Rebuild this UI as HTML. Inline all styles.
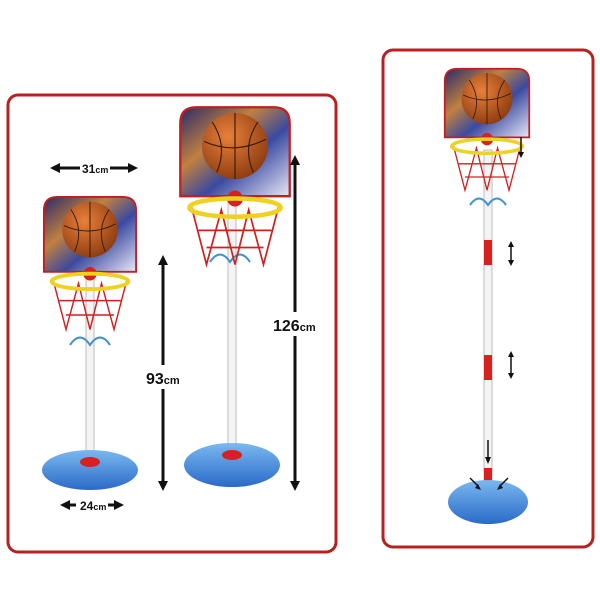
<!DOCTYPE html>
<html><head><style>html,body{margin:0;padding:0;background:#fff;width:600px;height:597px;overflow:hidden}</style></head>
<body>
<svg width="600" height="597" viewBox="0 0 600 597" xmlns="http://www.w3.org/2000/svg" font-family="Liberation Sans, sans-serif">
<defs>
<linearGradient id="bb" x1="0" y1="0" x2="1" y2="1">
<stop offset="0" stop-color="#2a2a6a"/><stop offset="0.35" stop-color="#c08040"/><stop offset="0.6" stop-color="#3a4aa0"/><stop offset="1" stop-color="#e8e8f8"/></linearGradient>
<radialGradient id="ball" cx="0.4" cy="0.35" r="0.7"><stop offset="0" stop-color="#e8803a"/><stop offset="1" stop-color="#8a3a10"/></radialGradient>
<linearGradient id="base" x1="0" y1="0" x2="0" y2="1"><stop offset="0" stop-color="#7ab8f0"/><stop offset="1" stop-color="#2a6ac8"/></linearGradient>
<symbol id="hoop" viewBox="0 0 100 150">
<path d="M2,16 Q2,2 16,2 L84,2 Q98,2 98,16 L98,80 L2,80 Z" fill="url(#bb)" stroke="#c02020" stroke-width="2"/>
<circle cx="50" cy="36" r="29" fill="url(#ball)"/>
<path d="M23,32 Q50,44 77,30 M50,7 L50,65 M30,15 Q44,36 34,59 M70,15 Q56,36 66,59" stroke="#3a1a08" stroke-width="1" fill="none"/>
<circle cx="50" cy="82" r="7" fill="#d82020"/>
<path d="M12,90 L25,140 L38,92 L50,140 L62,92 L75,140 L88,90 M18,110 L82,110 M25,125 L75,125" stroke="#d02020" stroke-width="1.5" fill="none"/>
<ellipse cx="50" cy="90" rx="40" ry="8" fill="none" stroke="#f0d020" stroke-width="4"/>
</symbol>
</defs>
<rect x="8" y="95" width="328" height="457" rx="10" fill="none" stroke="#b82020" stroke-width="3"/>
<rect x="383" y="50" width="210" height="497" rx="10" fill="none" stroke="#b82020" stroke-width="3"/>

<rect x="86" y="270" width="8" height="195" fill="#f4f4f4" stroke="#bbb" stroke-width="1"/>
<ellipse cx="90" cy="470" rx="48" ry="20" fill="url(#base)"/>
<ellipse cx="90" cy="462" rx="10" ry="5" fill="#d82020"/>
<path d="M70,345 q10,-15 20,0 q10,-15 20,0" stroke="#4090d0" fill="none" stroke-width="2"/>
<use href="#hoop" x="42" y="195" width="96" height="144"/>

<rect x="228" y="190" width="8" height="265" fill="#f4f4f4" stroke="#bbb" stroke-width="1"/>
<ellipse cx="232" cy="465" rx="48" ry="22" fill="url(#base)"/>
<ellipse cx="232" cy="455" rx="10" ry="5" fill="#d82020"/>
<path d="M210,262 q10,-15 20,0 q10,-15 20,0" stroke="#4090d0" fill="none" stroke-width="2"/>
<use href="#hoop" x="178" y="105" width="114" height="171"/>

<rect x="484" y="150" width="8" height="335" fill="#f4f4f4" stroke="#bbb" stroke-width="1"/>
<rect x="484" y="240" width="8" height="25" fill="#d82020"/>
<rect x="484" y="355" width="8" height="25" fill="#d82020"/>
<rect x="484" y="468" width="8" height="20" fill="#d82020"/>
<ellipse cx="488" cy="502" rx="40" ry="22" fill="url(#base)"/>
<path d="M470,205 q9,-13 18,0 q9,-13 18,0" stroke="#4090d0" fill="none" stroke-width="2"/>
<use href="#hoop" x="443" y="67" width="88" height="132"/>

<g stroke="#111" stroke-width="3" fill="#111">
<line x1="56" y1="168" x2="132" y2="168"/>
<path d="M50,168 l10,-5 v10z M138,168 l-10,-5 v10z" stroke="none"/>
<line x1="66" y1="505" x2="118" y2="505"/>
<path d="M60,505 l10,-5 v10z M124,505 l-10,-5 v10z" stroke="none"/>
<line x1="163" y1="262" x2="163" y2="484"/>
<path d="M163,255 l-5,10 h10z M163,491 l-5,-10 h10z" stroke="none"/>
<line x1="295" y1="162" x2="295" y2="484"/>
<path d="M295,155 l-5,10 h10z M295,491 l-5,-10 h10z" stroke="none"/>
<g stroke-width="1.5">
<line x1="521" y1="137" x2="521" y2="152"/><line x1="511" y1="245" x2="511" y2="262"/>
<line x1="511" y1="355" x2="511" y2="375"/><line x1="488" y1="440" x2="488" y2="458"/>
<line x1="470" y1="478" x2="478" y2="486"/><line x1="508" y1="478" x2="500" y2="486"/>
</g>
<g stroke="none">
<path d="M521,158 l-3,-6 h6z M511,241 l-3,6 h6z M511,266 l-3,-6 h6z M511,351 l-3,6 h6z M511,379 l-3,-6 h6z M488,464 l-3,-7 h6z M481,490 l-6,-2 l3,-4z M497,490 l6,-2 l-3,-4z"/>
</g>
</g>
<g font-weight="bold" fill="#111">
<rect x="80" y="158" width="30" height="20" fill="#fff"/>
<text x="82" y="173" font-size="12">31<tspan font-size="9">cm</tspan></text>
<rect x="76" y="496" width="32" height="18" fill="#fff"/>
<text x="80" y="510" font-size="12">24<tspan font-size="9">cm</tspan></text>
<rect x="143" y="365" width="40" height="24" fill="#fff"/>
<text x="146" y="384" font-size="16">93<tspan font-size="11">cm</tspan></text>
<rect x="272" y="312" width="50" height="24" fill="#fff"/>
<text x="273" y="331" font-size="16">126<tspan font-size="11">cm</tspan></text>
</g>
</svg>
</body></html>
